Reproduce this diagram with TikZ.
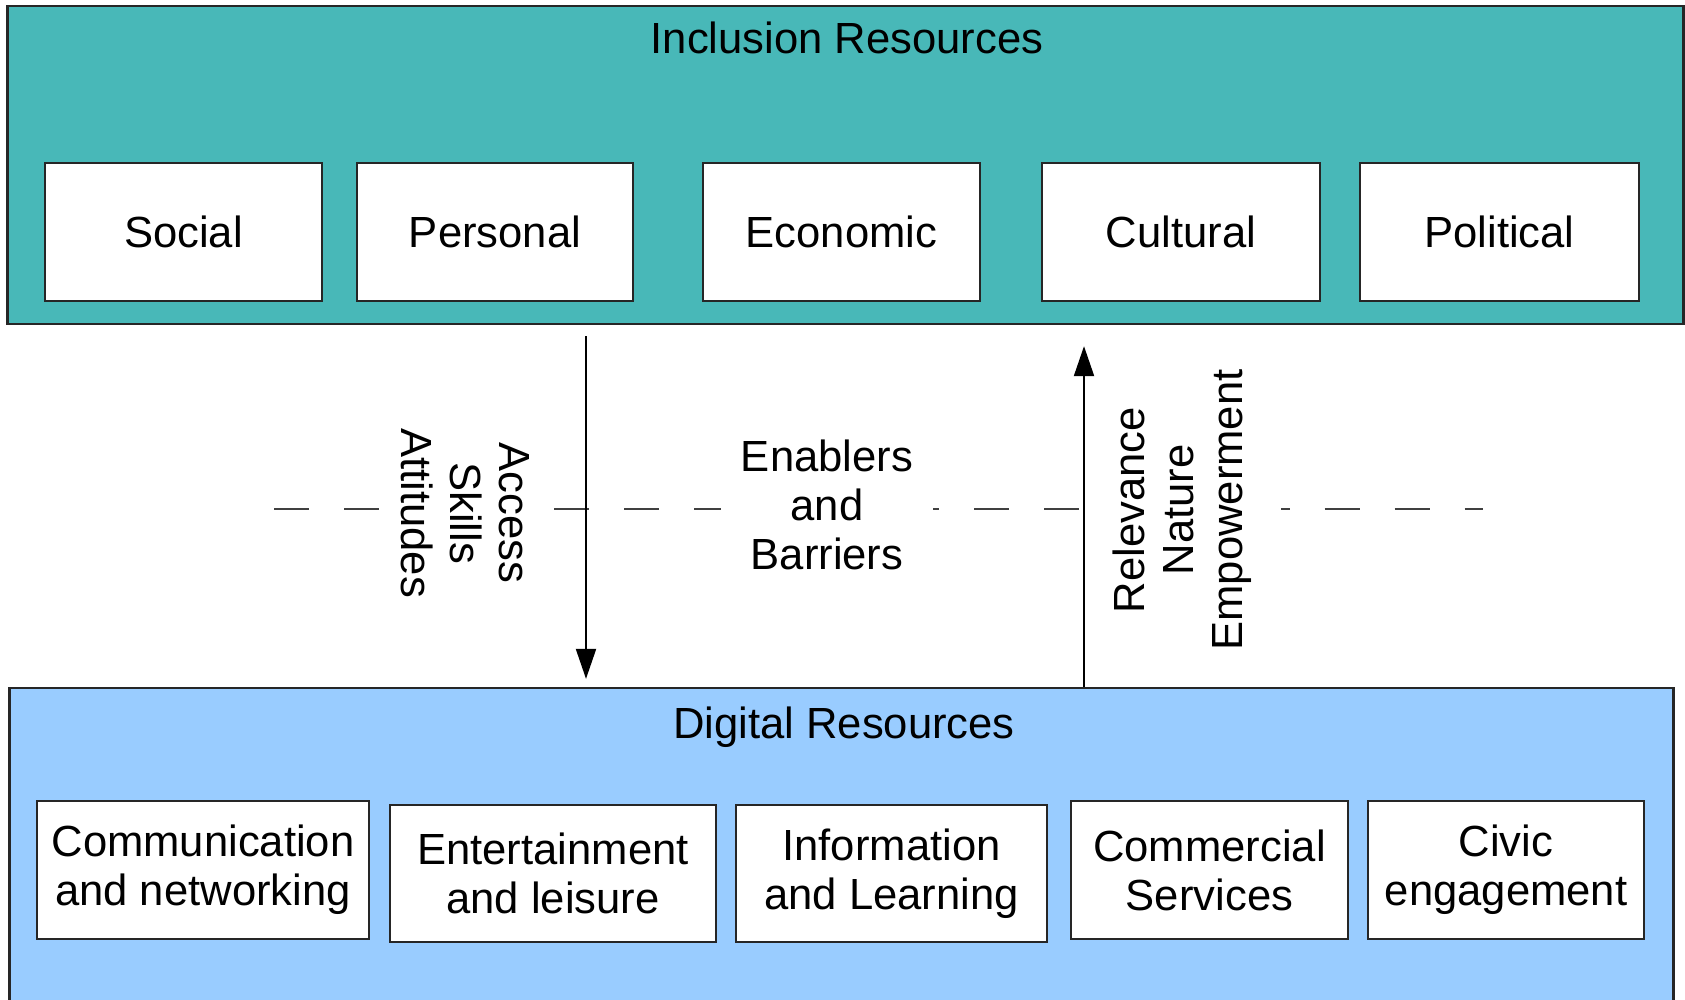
\documentclass[tikz,border=0pt]{standalone}
\usepackage{fontspec}
\setmainfont{Liberation Sans}
\usetikzlibrary{arrows.meta}
\definecolor{inclusionteal}{RGB}{72,184,184}
\definecolor{digitalblue}{RGB}{153,204,255}

\begin{document}
\begin{tikzpicture}[x=0.01cm, y=-0.01cm,
                    every node/.style={font=\fontsize{12.4}{13.9}\selectfont},
                    area/.style={draw=black!85, line width=0.6pt, inner sep=0pt},
                    resource/.style={draw=black!85, fill=white, line width=0.7pt, align=center, minimum height=1.38cm, inner sep=0pt},
                    factors/.style={fill=white, align=center, inner sep=0.2cm},
                    flow/.style={-{Triangle[length=0.3cm,width=0.2cm]}, line width=0.6pt}
]
\useasboundingbox (0,0) rectangle (1685,999);
\clip (0,0) rectangle (1685,999);

% Draw the two resource areas
\node [area, fill=inclusionteal, minimum width=16.75cm, minimum height=3.18cm] at (845.5,165) (inclusion) {};
\node [area, fill=digitalblue, minimum width=16.63cm, minimum height=3.8cm] at (841.5,878) (digital) {};
\node [anchor=base] at (847,53) (inclusiontitle) {Inclusion Resources};
\node [anchor=base] at (844,738) (digitaltitle) {Digital Resources};

% Draw the inclusion resources
\node [resource, minimum width=2.77cm] at (183.5,232) (social) {Social};
\node [resource, minimum width=2.76cm] at (495,232) (personal) {Personal};
\node [resource, minimum width=2.77cm] at (841.5,232) (economic) {Economic};
\node [resource, minimum width=2.78cm] at (1181,232) (cultural) {Cultural};
\node [resource, minimum width=2.79cm] at (1499.5,232) (political) {Political};

% Draw the digital resources
\node [resource, minimum width=3.32cm] at (203,870) (comm) {Communication\\and networking};
\node [resource, minimum width=3.26cm, minimum height=1.37cm] at (553,873.5) (ent) {Entertainment\\and leisure};
\node [resource, minimum width=3.11cm, minimum height=1.37cm] at (891.5,873.5) (info) {Information\\and Learning};
\node [resource, minimum width=2.77cm] at (1209.5,870) (commerce) {Commercial\\Services};
\node [resource, minimum width=2.76cm] at (1506,870) (civic) {Civic\\engagement};

% Draw the dashed divider and its labels
\coordinate (divleft) at (274,509);
\coordinate (divright) at (1483,509);
\draw [black!75, line width=0.5pt, dash pattern=on 0.35cm off 0.35cm] (divleft) -- (divright);
\node [factors, rotate=-90] at (465,513) (access) {Access\\Skills\\Attitudes};
\node [factors] at (827,505) (enablers) {Enablers\\and\\Barriers};
\node [factors, rotate=90, inner ysep=0.3cm] at (1182,510) (relevance) {Relevance\\Nature\\Empowerment};

% Draw the arrows between the areas
\coordinate (downx) at (586,0);
\coordinate (upx) at (1084,0);
\draw [flow, shorten <=0.11cm, shorten >=0.08cm] (inclusion.south -| downx) -- (digital.north -| downx);
\draw [flow, shorten >=0.21cm] (digital.north -| upx) -- (inclusion.south -| upx);

\end{tikzpicture}
\end{document}
